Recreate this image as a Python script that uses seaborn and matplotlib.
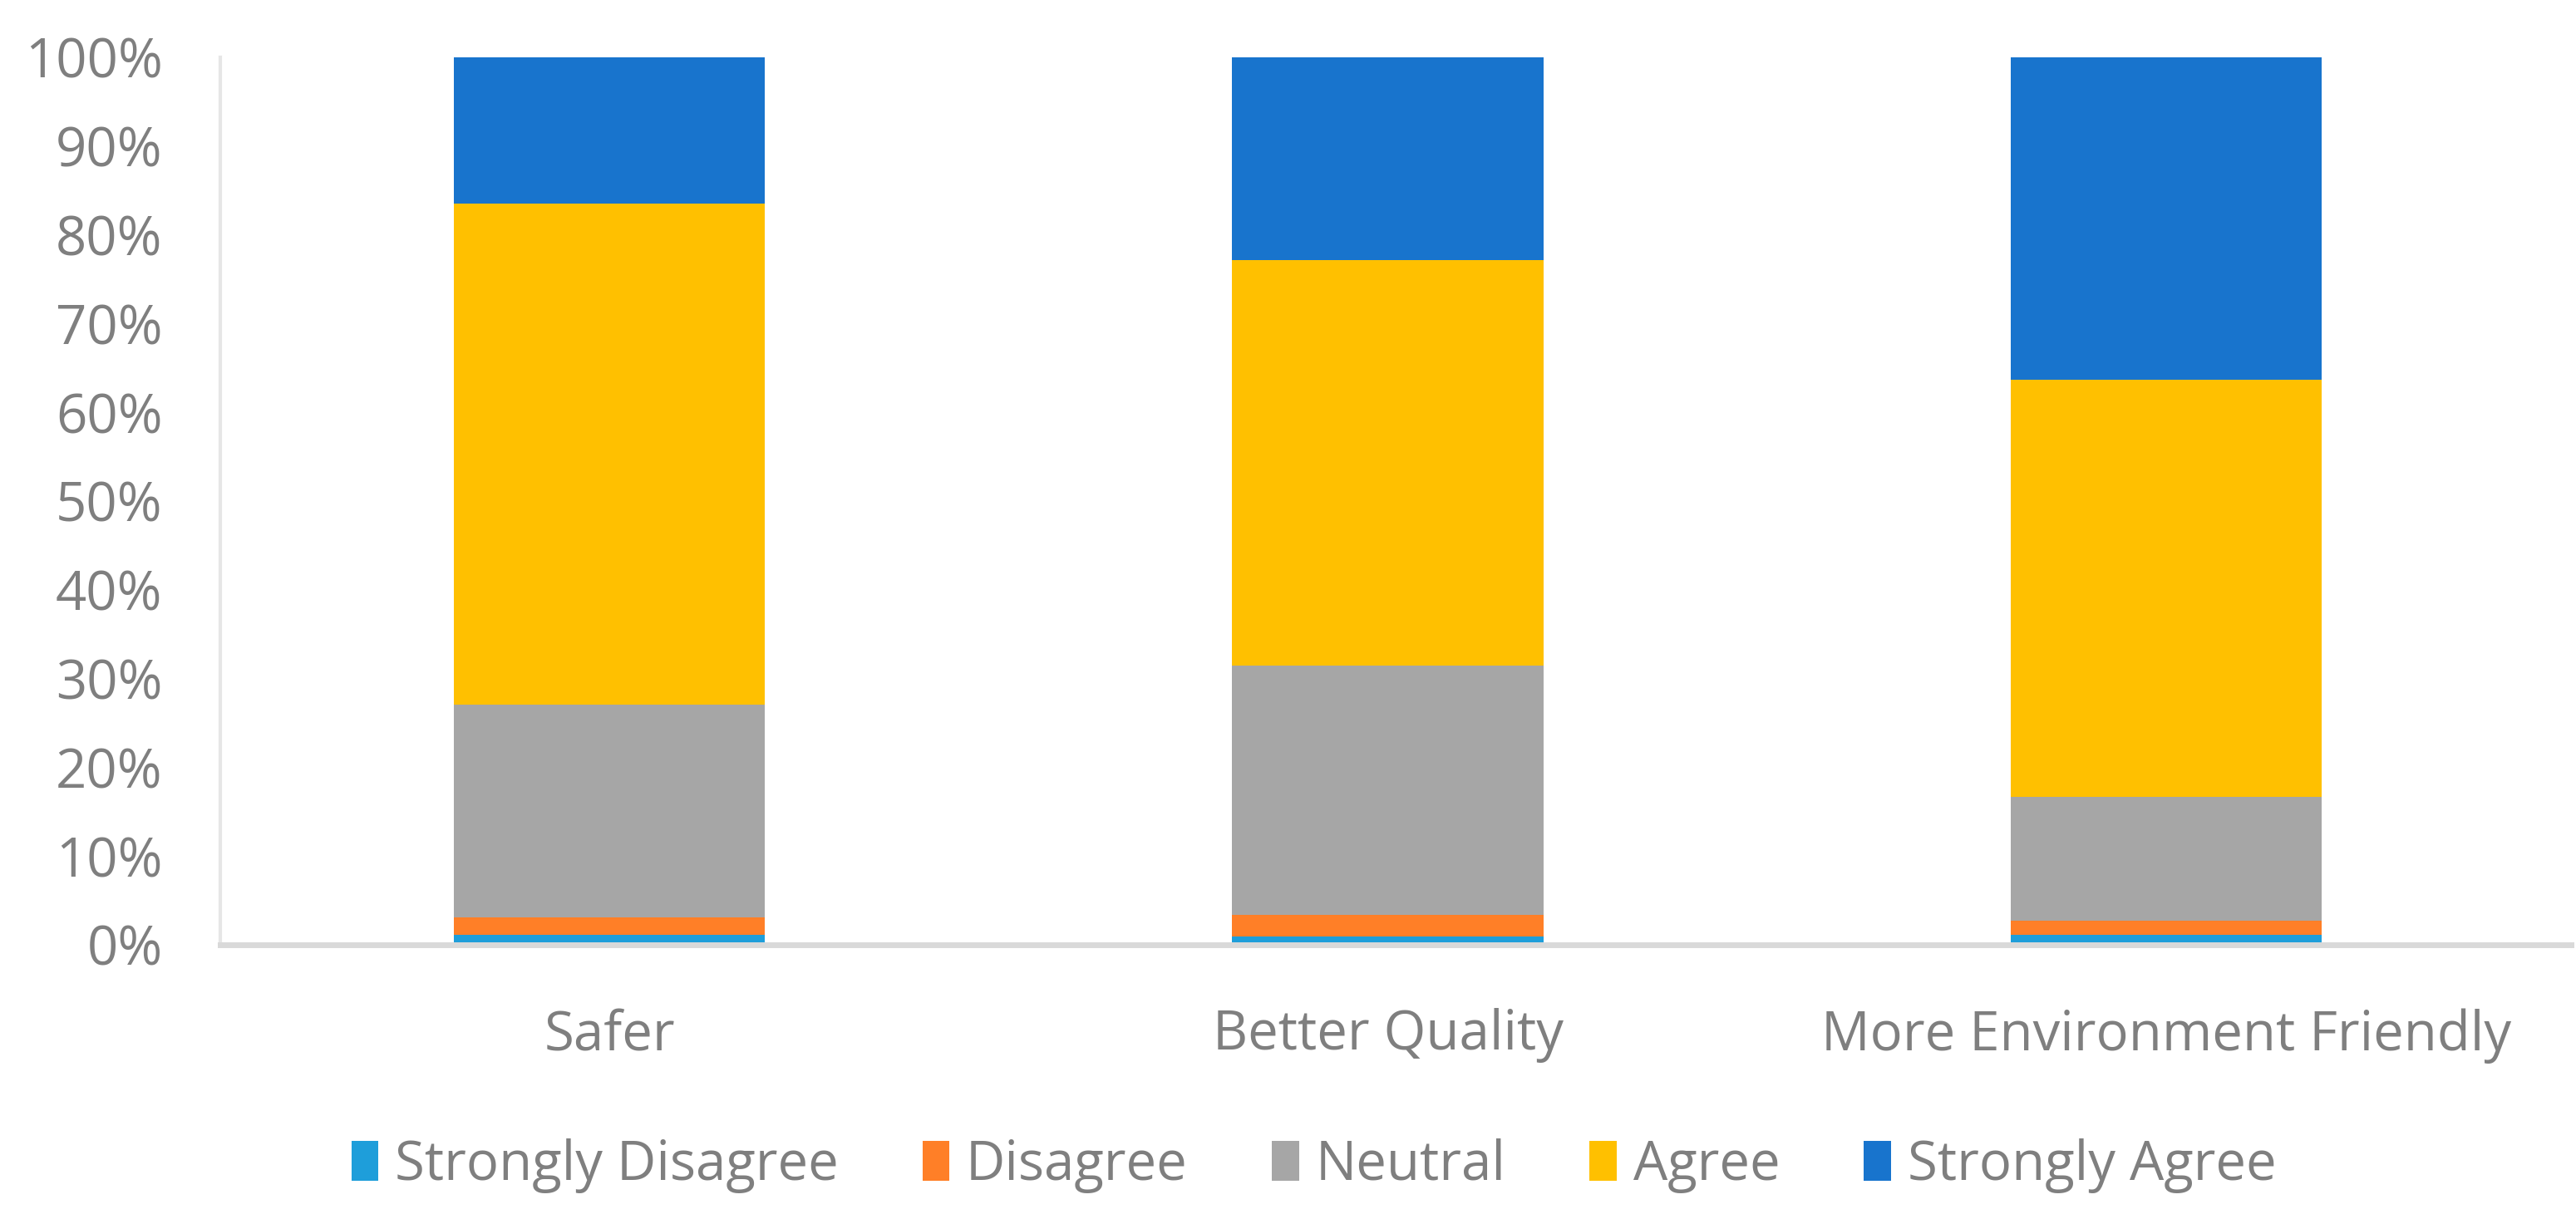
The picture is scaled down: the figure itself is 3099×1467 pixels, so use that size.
import numpy as np
import pandas as pd
import matplotlib
matplotlib.use("Agg")
import matplotlib.pyplot as plt
import seaborn as sns
from matplotlib.patches import Patch

# data (percent of respondents)
categories = ['Safer', 'Better Quality', 'More Environment Friendly']
levels = ['Strongly Disagree', 'Disagree', 'Neutral', 'Agree', 'Strongly Agree']
strongly_disagree = [1.1, 0.9, 1.1]
disagree = [2.0, 2.5, 1.6]
neutral = [24.0, 28.1, 14.0]
agree = [56.4, 45.7, 47.0]
strongly_agree = [16.5, 22.8, 36.3]
colors = ['#1E9EDA', '#FF7F27', '#A6A6A6', '#FFC000', '#1874CD']

df = pd.DataFrame({
    'category': categories,
    'Strongly Disagree': strongly_disagree,
    'Disagree': disagree,
    'Neutral': neutral,
    'Agree': agree,
    'Strongly Agree': strongly_agree,
})
# normalise to 100% like a 100% stacked column chart
df[levels] = df[levels].div(df[levels].sum(axis=1), axis=0) * 100
cum = df[levels].cumsum(axis=1)

sns.set_style('white')
plt.rcParams['font.family'] = ['Open Sans', 'DejaVu Sans']
txt = '#7F7F7F'

fig = plt.figure(figsize=(30.99, 14.67), dpi=100)
ax = fig.add_axes([265 / 3099, 1 - 1137 / 1467, (3093 - 265) / 3099, (1137 - 69) / 1467])

# draw cumulative bars from top level down so each overlays the previous
for lvl, col in reversed(list(zip(levels, colors))):
    sns.barplot(x=df['category'], y=cum[lvl], color=col, width=0.4,
                saturation=1, linewidth=0, ax=ax, zorder=2)

ax.set_ylim(0, 100)
ax.set_xlim(-0.5, 2.52)
ax.set_yticks(np.arange(0, 101, 10))
ax.set_yticklabels([f'{v}%' for v in range(0, 101, 10)])
ax.set_xlabel('')
ax.set_ylabel('')
ax.tick_params(axis='y', labelsize=47, colors=txt, length=0, pad=50)
ax.tick_params(axis='x', labelsize=47, colors=txt, length=0, pad=55)

for s in ['top', 'right']:
    ax.spines[s].set_visible(False)
ax.spines['bottom'].set_color('#D9D9D9')
ax.spines['bottom'].set_linewidth(5)
ax.spines['bottom'].set_zorder(3)
ax.spines['left'].set_color('#E6E6E6')
ax.spines['left'].set_linewidth(3)

handles = [Patch(facecolor=c, edgecolor='none') for c in colors]
leg = fig.legend(handles, levels, loc='center', bbox_to_anchor=(0.51, 1 - 1403 / 1467),
                 ncol=5, frameon=False, fontsize=47, handlelength=0.5, handleheight=0.75,
                 handletextpad=0.3, columnspacing=1.55)
for t in leg.get_texts():
    t.set_color(txt)

fig.savefig('out.png', dpi=100)
